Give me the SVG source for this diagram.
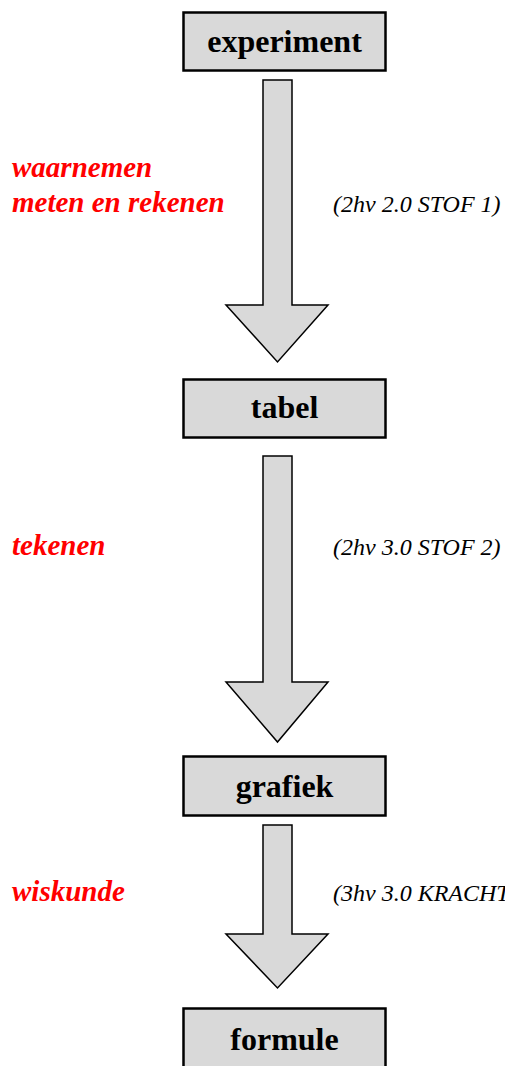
<svg xmlns="http://www.w3.org/2000/svg" width="505" height="1066" viewBox="0 0 505 1066">
<style>
.box{fill:#d9d9d9;stroke:#000;stroke-width:2.5}
.arr{fill:#d9d9d9;stroke:#000;stroke-width:1.5;stroke-linejoin:miter}
.lbl{font-family:"Liberation Serif",serif;font-weight:bold;font-size:32px;fill:#000;text-anchor:middle}
.red{font-family:"Liberation Serif",serif;font-weight:bold;font-style:italic;font-size:29px;fill:#ff0000}
.ref{font-family:"Liberation Serif",serif;font-style:italic;font-size:24px;fill:#000}
</style>
<rect width="505" height="1066" fill="#fff"/>
<g id="connectors">
<path class="arr" d="M263,80 H292 V305 H328 L277.5,362 L226,305 H263 Z"/>
<path class="arr" d="M263,456 H292 V682 H328 L277.5,742 L226,682 H263 Z"/>
<path class="arr" d="M263,825 H292 V934 H328 L277.5,988 L226,934 H263 Z"/>
</g>
<g id="experiment"><rect class="box" x="183.5" y="12.5" width="202" height="58"/><text class="lbl" x="284.5" y="52">experiment</text></g>
<g id="tabel"><rect class="box" x="183.5" y="379.5" width="202" height="58"/><text class="lbl" x="284.5" y="418">tabel</text></g>
<g id="grafiek"><rect class="box" x="183.5" y="756.5" width="202" height="59"/><text class="lbl" x="284.5" y="797">grafiek</text></g>
<g id="formule"><rect class="box" x="183.5" y="1008.5" width="202" height="70"/><text class="lbl" x="284.5" y="1050">formule</text></g>
<g id="labels">
<text class="red" x="12" y="177">waarnemen</text>
<text class="red" x="12" y="212">meten en rekenen</text>
<text class="ref" x="333" y="212">(2hv 2.0 STOF 1)</text>
<text class="red" x="12" y="555">tekenen</text>
<text class="ref" x="333" y="555">(2hv 3.0 STOF 2)</text>
<text class="red" x="12" y="901">wiskunde</text>
<text class="ref" x="333" y="901">(3hv 3.0 KRACHT)</text>
</g>
</svg>
